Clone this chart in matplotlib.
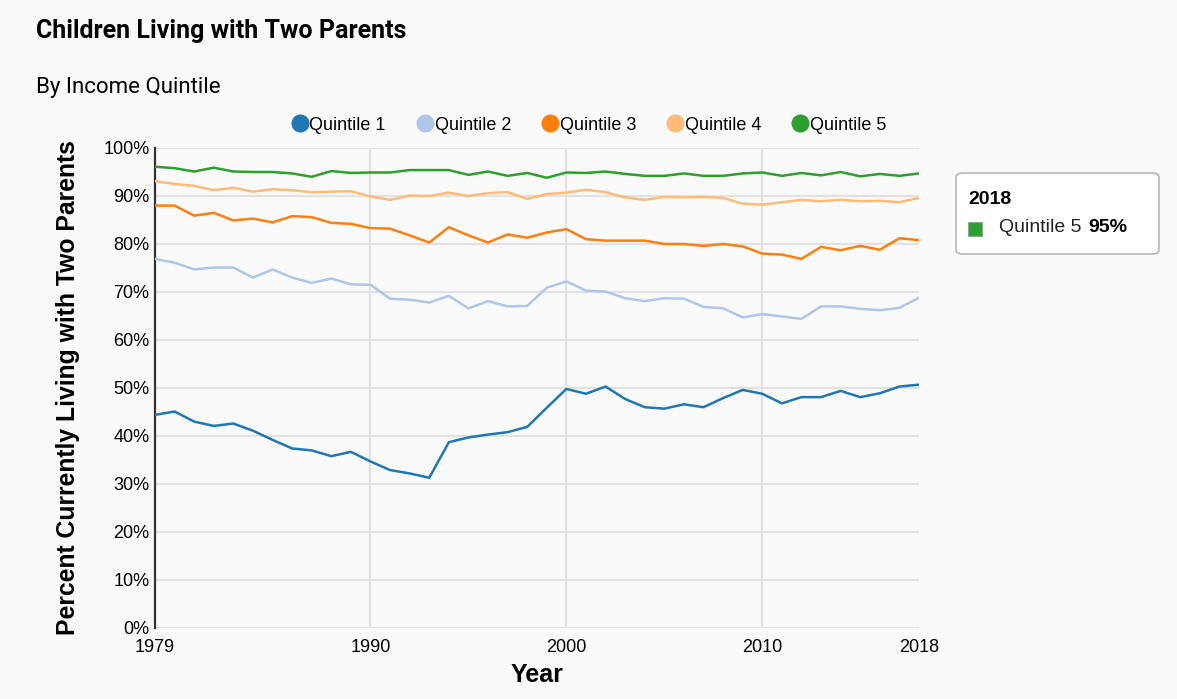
import matplotlib
matplotlib.use("Agg")
import matplotlib.pyplot as plt
from matplotlib.patches import FancyBboxPatch, Rectangle
from matplotlib.lines import Line2D

years = list(range(1979, 2019))

quintile_1 = [44.4, 45.1, 43.0, 42.1, 42.6, 41.1, 39.2, 37.4, 37.0, 35.8,
              36.7, 34.7, 32.9, 32.2, 31.3, 38.7, 39.7, 40.3, 40.8, 41.9,
              45.9, 49.8, 48.8, 50.3, 47.7, 46.0, 45.7, 46.6, 46.0, 47.9,
              49.6, 48.8, 46.8, 48.1, 48.1, 49.4, 48.1, 48.9, 50.3, 50.7]
quintile_2 = [76.9, 76.1, 74.7, 75.1, 75.1, 73.0, 74.7, 73.0, 71.9, 72.8,
              71.6, 71.5, 68.6, 68.4, 67.8, 69.2, 66.6, 68.1, 67.0, 67.1,
              70.9, 72.2, 70.3, 70.1, 68.7, 68.1, 68.7, 68.6, 66.9, 66.6,
              64.7, 65.4, 64.9, 64.4, 67.0, 67.0, 66.5, 66.2, 66.7, 68.8]
quintile_3 = [88.0, 88.0, 85.9, 86.5, 84.9, 85.3, 84.5, 85.8, 85.6, 84.4,
              84.2, 83.3, 83.2, 81.8, 80.3, 83.5, 81.8, 80.3, 82.0, 81.3,
              82.4, 83.1, 81.0, 80.7, 80.7, 80.7, 80.0, 80.0, 79.6, 80.0,
              79.5, 78.0, 77.8, 76.9, 79.4, 78.7, 79.6, 78.8, 81.2, 80.8]
quintile_4 = [93.1, 92.5, 92.1, 91.2, 91.7, 90.9, 91.4, 91.2, 90.8, 90.9,
              91.0, 89.9, 89.2, 90.1, 90.0, 90.7, 90.0, 90.6, 90.8, 89.4,
              90.4, 90.7, 91.3, 90.8, 89.7, 89.2, 89.8, 89.7, 89.8, 89.6,
              88.4, 88.2, 88.7, 89.2, 88.9, 89.2, 88.9, 89.0, 88.7, 89.6]
quintile_5 = [96.1, 95.8, 95.1, 95.9, 95.1, 95.0, 95.0, 94.7, 94.0, 95.2,
              94.8, 94.9, 94.9, 95.4, 95.4, 95.4, 94.4, 95.1, 94.2, 94.8,
              93.8, 94.9, 94.8, 95.1, 94.6, 94.2, 94.2, 94.7, 94.2, 94.2,
              94.7, 94.9, 94.2, 94.8, 94.3, 95.0, 94.1, 94.6, 94.2, 94.7]

series_names = ["Quintile 1", "Quintile 2", "Quintile 3", "Quintile 4", "Quintile 5"]
series_values = [quintile_1, quintile_2, quintile_3, quintile_4, quintile_5]
colors = ["#1f77b4", "#aec7e8", "#ff7f0e", "#ffbb78", "#2ca02c"]

x_ticks = [1979, 1990, 2000, 2010, 2018]
x_grid = [1990, 2000, 2010]
y_ticks = list(range(0, 101, 10))

bg = "#fafafa"
W, H = 1177, 699
sans = "Liberation Sans"

fig = plt.figure(figsize=(W / 100, H / 100), dpi=100, facecolor=bg)
ax = fig.add_axes([155 / W, 1 - 628 / H, (919 - 155) / W, (628 - 148) / H])
ax.set_facecolor(bg)

# grid
for v in y_ticks:
    ax.axhline(v, color="#e2e2e2", lw=1.6, zorder=0)
for v in x_grid:
    ax.axvline(v, color="#e2e2e2", lw=1.6, zorder=0)

for name, vals, c in zip(series_names, series_values, colors):
    ax.plot(years, vals, color=c, lw=1.8, zorder=3)

ax.set_xlim(1979, 2018)
ax.set_ylim(0, 100)
ax.set_xticks(x_ticks)
ax.set_yticks(y_ticks)
ax.set_yticklabels(["%d%%" % v for v in y_ticks])
ax.tick_params(length=0, labelsize=13, pad=4)
for lab in ax.get_xticklabels() + ax.get_yticklabels():
    lab.set_fontfamily(sans)
ax.tick_params(axis="x", pad=8)
for s in ["top", "right", "bottom"]:
    ax.spines[s].set_visible(False)
ax.spines["left"].set_color("#333333")
ax.spines["left"].set_linewidth(1.6)

ax.set_xlabel("Year", fontsize=18, fontweight="bold", family=sans, labelpad=5)
ax.set_ylabel("Percent Currently Living with Two Parents", fontsize=17.8,
              fontweight="bold", family=sans, labelpad=17)

# titles
fig.text(36 / W, 1 - 31 / H, "Children Living with Two Parents", fontsize=18,
         fontweight="bold", family="Roboto", va="center", ha="left")
fig.text(36 / W, 1 - 88 / H, "By Income Quintile", fontsize=16,
         family="Roboto", va="center", ha="left")

# top legend
handles = [Line2D([], [], marker="o", ls="none", ms=12, color=c) for c in colors]
fig.legend(handles, series_names, loc="center", bbox_to_anchor=(588 / W, 1 - 125 / H),
           ncol=5, frameon=False, handletextpad=0.0, columnspacing=1.6,
           prop={"family": sans, "size": 13}, handlelength=1.1)

# tooltip box
box = FancyBboxPatch((956 / W, 1 - 254 / H), 203 / W, 81 / H,
                     boxstyle="round,pad=0,rounding_size=0.006",
                     transform=fig.transFigure, facecolor="white",
                     edgecolor="#aaaaaa", lw=1.0)
fig.patches.append(box)
fig.text(968 / W, 1 - 199 / H, str(years[-1]), fontsize=14, fontweight="bold",
         family=sans, va="center")
fig.patches.append(Rectangle((968 / W, 1 - 236 / H), 14 / W, 14 / H,
                             transform=fig.transFigure, facecolor=colors[4],
                             edgecolor="#8aa88a", lw=0.8))
fig.text(999 / W, 1 - 228 / H, series_names[4], fontsize=14,
         family=sans, va="center", color="#222222")
fig.text(1088 / W, 1 - 228 / H, "%d%%" % round(quintile_5[-1]), fontsize=14,
         fontweight="bold", family=sans, va="center")

fig.savefig("out.png", dpi=100, facecolor=bg)
